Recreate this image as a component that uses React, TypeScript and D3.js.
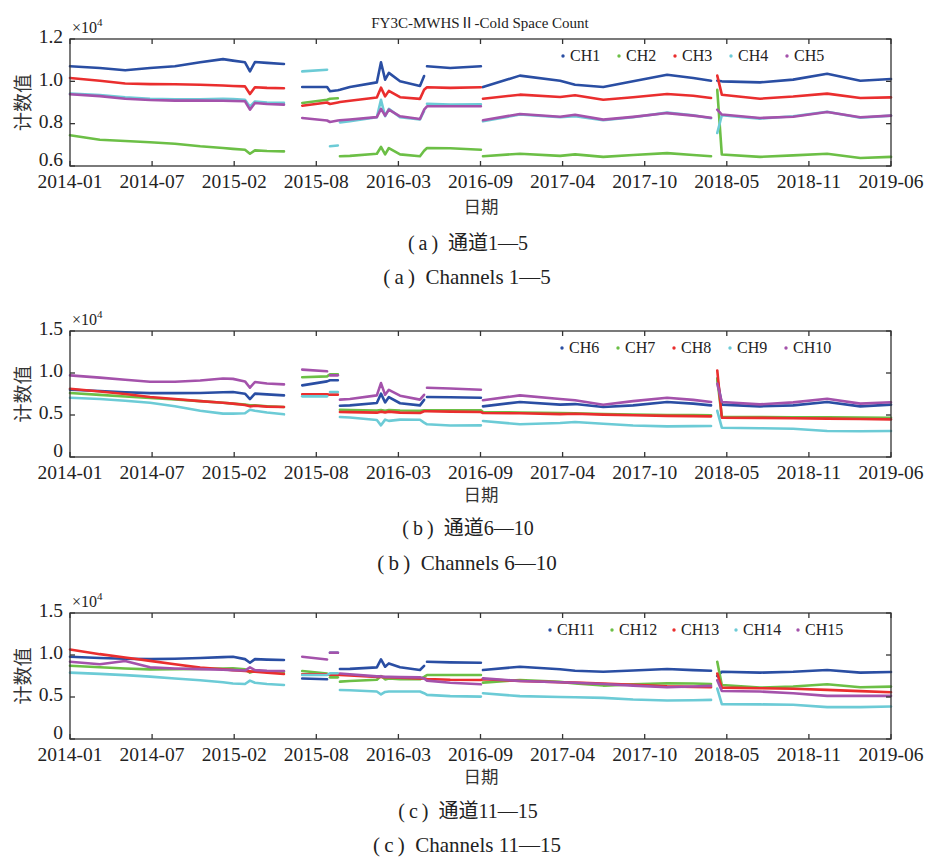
import React from "react";
import * as d3 from "d3";

// sample dates (null rows in the series = data gaps)
const dates = [
  "2014-01-01", "2014-03-14", "2014-05-14", "2014-07-13", "2014-09-11", "2014-11-11",
  "2015-01-05", "2015-01-29", "2015-02-27", "2015-03-11", "2015-03-23", "2015-04-21",
  "2015-06-01", "2015-06-20", "2015-07-15", "2015-09-13", "2015-09-20", "2015-10-09",
  "2015-10-14", "2015-11-07", "2016-01-11", "2016-01-21", "2016-01-31", "2016-02-09",
  "2016-03-07", "2016-04-24", "2016-05-04", "2016-05-11", "2016-07-06", "2016-09-18",
  "2016-09-23", "2016-12-21", "2017-03-28", "2017-05-03", "2017-07-10", "2017-09-20",
  "2017-12-11", "2018-02-12", "2018-03-27", "2018-04-03", "2018-04-11", "2018-04-22",
  "2018-07-23", "2018-10-11", "2019-01-01", "2019-03-22", "2019-06-04",
];

const xTickLabels = [
  "2014-01", "2014-07", "2015-02", "2015-08", "2016-03", "2016-09",
  "2017-04", "2017-10", "2018-05", "2018-11", "2019-06",
];

// cold space counts, units of 10^4
const ch1 = [1.071, 1.063, 1.052, 1.063, 1.071, 1.09, 1.105, 1.098, 1.09, 1.047, 1.091, 1.087, 1.082, null, 0.973, 0.973, 0.953, 0.958, 0.96, 0.973, 0.995, 1.09, 1.008, 1.04, 1.0, 0.978, 1.025, 1.071, 1.063, 1.071, 0.973, 1.027, 1.003, 0.984, 0.973, 1.0, 1.031, 1.016, 1.003, null, 1.003, 1.0, 0.995, 1.008, 1.036, 1.003, 1.011];
const ch2 = [0.745, 0.724, 0.718, 0.712, 0.705, 0.693, 0.685, 0.681, 0.677, 0.658, 0.674, 0.671, 0.669, null, 0.898, 0.913, 0.918, 0.92, 0.646, 0.648, 0.658, 0.69, 0.655, 0.685, 0.655, 0.646, 0.672, 0.685, 0.684, 0.677, 0.646, 0.658, 0.648, 0.655, 0.643, 0.652, 0.661, 0.652, 0.646, null, 0.96, 0.654, 0.643, 0.65, 0.658, 0.638, 0.643];
const ch3 = [1.016, 1.003, 0.99, 0.987, 0.986, 0.984, 0.98, 0.978, 0.976, 0.94, 0.972, 0.969, 0.967, null, 0.885, 0.9, 0.893, 0.9, 0.902, 0.908, 0.924, 0.97, 0.929, 0.955, 0.925, 0.917, 0.96, 0.972, 0.969, 0.972, 0.918, 0.937, 0.926, 0.934, 0.913, 0.925, 0.94, 0.932, 0.921, null, 1.027, 0.937, 0.918, 0.928, 0.942, 0.921, 0.924];
const ch4 = [0.942, 0.935, 0.925, 0.918, 0.915, 0.915, 0.917, 0.916, 0.913, 0.88, 0.905, 0.9, 0.898, null, 1.047, 1.055, 0.693, 0.697, 0.806, 0.812, 0.83, 0.913, 0.835, 0.87, 0.83, 0.82, 0.86, 0.894, 0.89, 0.892, 0.811, 0.843, 0.83, 0.835, 0.816, 0.83, 0.852, 0.84, 0.826, null, 0.756, 0.84, 0.824, 0.835, 0.856, 0.828, 0.838];
const ch5 = [0.939, 0.93, 0.918, 0.912, 0.909, 0.909, 0.908, 0.907, 0.906, 0.866, 0.898, 0.893, 0.89, null, 0.827, 0.815, 0.808, 0.815, 0.816, 0.82, 0.831, 0.87, 0.838, 0.866, 0.835, 0.822, 0.866, 0.882, 0.882, 0.882, 0.816, 0.846, 0.833, 0.842, 0.819, 0.832, 0.85, 0.838, 0.828, null, 0.866, 0.843, 0.827, 0.833, 0.855, 0.83, 0.838];

const ch6 = [0.8, 0.785, 0.77, 0.76, 0.76, 0.762, 0.77, 0.774, 0.754, 0.69, 0.754, 0.745, 0.734, null, 0.853, 0.9, 0.913, 0.913, 0.611, 0.615, 0.643, 0.754, 0.65, 0.714, 0.64, 0.615, 0.68, 0.714, 0.712, 0.706, 0.603, 0.655, 0.623, 0.63, 0.595, 0.615, 0.655, 0.635, 0.615, null, 0.933, 0.623, 0.603, 0.615, 0.655, 0.603, 0.623];
const ch7 = [0.762, 0.74, 0.72, 0.702, 0.685, 0.665, 0.645, 0.635, 0.625, 0.615, 0.615, 0.605, 0.595, null, 0.95, 0.96, 0.984, 0.984, 0.563, 0.56, 0.553, 0.56, 0.55, 0.56, 0.553, 0.55, 0.556, 0.556, 0.556, 0.556, 0.536, 0.53, 0.522, 0.52, 0.512, 0.506, 0.5, 0.498, 0.496, null, 0.93, 0.476, 0.476, 0.474, 0.472, 0.47, 0.468];
const ch8 = [0.813, 0.78, 0.75, 0.714, 0.69, 0.665, 0.645, 0.635, 0.62, 0.603, 0.61, 0.6, 0.595, null, 0.746, 0.746, 0.742, 0.742, 0.536, 0.534, 0.528, 0.54, 0.53, 0.54, 0.528, 0.524, 0.544, 0.544, 0.54, 0.536, 0.524, 0.52, 0.51, 0.514, 0.504, 0.497, 0.49, 0.487, 0.484, null, 1.03, 0.468, 0.466, 0.462, 0.457, 0.452, 0.448];
const ch9 = [0.706, 0.69, 0.67, 0.645, 0.605, 0.55, 0.516, 0.516, 0.52, 0.563, 0.55, 0.53, 0.508, null, 0.722, 0.722, 0.774, 0.774, 0.476, 0.47, 0.44, 0.377, 0.445, 0.43, 0.445, 0.444, 0.41, 0.389, 0.375, 0.377, 0.429, 0.389, 0.405, 0.417, 0.395, 0.375, 0.365, 0.368, 0.369, null, 0.55, 0.349, 0.343, 0.337, 0.31, 0.306, 0.31];
const ch10 = [0.972, 0.945, 0.92, 0.895, 0.895, 0.91, 0.935, 0.93, 0.9, 0.825, 0.893, 0.875, 0.865, null, 1.04, 1.02, 0.972, 0.972, 0.683, 0.69, 0.734, 0.88, 0.74, 0.8, 0.73, 0.683, 0.74, 0.825, 0.815, 0.8, 0.675, 0.734, 0.69, 0.675, 0.623, 0.665, 0.706, 0.68, 0.655, null, 0.873, 0.655, 0.627, 0.65, 0.694, 0.635, 0.651];

const ch11 = [0.979, 0.965, 0.955, 0.951, 0.955, 0.965, 0.975, 0.979, 0.951, 0.908, 0.951, 0.945, 0.94, null, 0.72, 0.711, 1.026, 1.026, 0.833, 0.835, 0.853, 0.947, 0.86, 0.9, 0.855, 0.821, 0.87, 0.92, 0.912, 0.908, 0.821, 0.861, 0.83, 0.813, 0.8, 0.815, 0.833, 0.82, 0.813, null, 0.75, 0.801, 0.79, 0.8, 0.821, 0.79, 0.797];
const ch12 = [0.872, 0.855, 0.84, 0.829, 0.83, 0.835, 0.84, 0.841, 0.83, 0.79, 0.81, 0.805, 0.801, null, 0.809, 0.78, 0.734, 0.734, 0.683, 0.69, 0.705, 0.75, 0.71, 0.72, 0.711, 0.711, 0.74, 0.762, 0.762, 0.762, 0.671, 0.703, 0.68, 0.66, 0.636, 0.65, 0.663, 0.66, 0.655, null, 0.92, 0.643, 0.612, 0.625, 0.651, 0.616, 0.624];
const ch13 = [1.066, 1.01, 0.97, 0.93, 0.89, 0.85, 0.83, 0.82, 0.81, 0.805, 0.8, 0.79, 0.774, null, 0.77, 0.77, 0.766, 0.764, 0.762, 0.758, 0.74, 0.74, 0.735, 0.735, 0.73, 0.72, 0.72, 0.715, 0.705, 0.703, 0.711, 0.69, 0.675, 0.671, 0.66, 0.645, 0.626, 0.62, 0.616, null, 0.78, 0.612, 0.605, 0.598, 0.585, 0.57, 0.557];
const ch14 = [0.79, 0.775, 0.76, 0.742, 0.72, 0.7, 0.675, 0.66, 0.655, 0.695, 0.67, 0.655, 0.643, null, 0.762, 0.762, 0.782, 0.782, 0.584, 0.58, 0.565, 0.53, 0.56, 0.565, 0.565, 0.565, 0.545, 0.525, 0.51, 0.505, 0.545, 0.51, 0.5, 0.497, 0.49, 0.47, 0.458, 0.462, 0.466, null, 0.6, 0.415, 0.412, 0.407, 0.38, 0.379, 0.387];
const ch15 = [0.92, 0.89, 0.928, 0.853, 0.84, 0.832, 0.825, 0.82, 0.815, 0.853, 0.82, 0.812, 0.809, null, 0.979, 0.947, 1.026, 1.026, 0.78, 0.77, 0.745, 0.745, 0.74, 0.74, 0.737, 0.734, 0.72, 0.695, 0.67, 0.651, 0.722, 0.69, 0.675, 0.67, 0.655, 0.635, 0.616, 0.625, 0.632, null, 0.7, 0.572, 0.565, 0.545, 0.513, 0.513, 0.513];

const colors = ["#2a4ea3", "#6cbf46", "#ea2e2e", "#6ccbd6", "#a452ab"];

// fonts go through the style prop
const serif = { fontFamily: '"Liberation Serif", "Times New Roman", "DejaVu Serif", serif' };
const cjk = { fontFamily: '"Noto Sans CJK SC", sans-serif' };
const axisColor = "#333";

const parse = d3.timeParse("%Y-%m-%d");
const start = parse("2014-01-01");
const end = d3.timeDay.offset(start, 1980);
const x = d3.scaleTime().domain([start, end]).range([70, 891]);
const tickDates = xTickLabels.map((_, i) => d3.timeDay.offset(start, i * 198));
const parsedDates = dates.map((d) => parse(d));

const panels = [
  {
    series: [ch1, ch2, ch3, ch4, ch5], names: ["CH1", "CH2", "CH3", "CH4", "CH5"],
    top: 39, bottom: 166, domain: [0.6, 1.2], ticks: [0.6, 0.8, 1.0, 1.2],
    legendX: 563, legendStep: 56, xLabelY: 213,
    tag: "a", cn: "通道1—5", en: "Channels 1—5", cap1Y: 250, cap2Y: 284,
  },
  {
    series: [ch6, ch7, ch8, ch9, ch10], names: ["CH6", "CH7", "CH8", "CH9", "CH10"],
    top: 331, bottom: 457, domain: [0, 1.5], ticks: [0, 0.5, 1.0, 1.5],
    legendX: 562, legendStep: 56, xLabelY: 501,
    tag: "b", cn: "通道6—10", en: "Channels 6—10", cap1Y: 535, cap2Y: 570,
  },
  {
    series: [ch11, ch12, ch13, ch14, ch15], names: ["CH11", "CH12", "CH13", "CH14", "CH15"],
    top: 613, bottom: 739, domain: [0, 1.5], ticks: [0, 0.5, 1.0, 1.5],
    legendX: 550, legendStep: 62, xLabelY: 783,
    tag: "c", cn: "通道11—15", en: "Channels 11—15", cap1Y: 818, cap2Y: 852,
  },
];

const fmt = (v) => (v === 0 ? "0" : d3.format(".1f")(v));

// split a series into runs: break at nulls and at abrupt level jumps (the
// original is a scatter of daily points, so jumps show as gaps, not lines)
function segments(s) {
  const segs = [];
  let cur = [];
  parsedDates.forEach((d, j) => {
    const v = s[j];
    if (v == null) {
      if (cur.length) segs.push(cur);
      cur = [];
      return;
    }
    if (cur.length) {
      const [pd, pv] = cur[cur.length - 1];
      if (d3.timeDay.count(pd, d) <= 7 && Math.abs(v - pv) > 0.03) {
        segs.push(cur);
        cur = [];
      }
    }
    cur.push([d, v]);
  });
  if (cur.length) segs.push(cur);
  return segs;
}

function Panel({ p }) {
  const [x0, x1] = x.range();
  const y = d3.scaleLinear().domain(p.domain).range([p.bottom, p.top]);
  const line = d3
    .line()
    .x((d) => x(d[0]))
    .y((d) => y(d[1]));
  const tk = 5;

  return (
    <g>
      {/* series, first channel drawn first so the last one sits on top */}
      {p.series.map((s, i) => (
        <g key={i} fill="none" stroke={colors[i]} strokeWidth={2.6} strokeLinejoin="round" strokeLinecap="round">
          {segments(s).map((seg, k) => (
            <path key={k} d={seg.length > 1 ? line(seg) : `M${x(seg[0][0])},${y(seg[0][1])}h0.1`} />
          ))}
        </g>
      ))}

      {/* frame and inward ticks */}
      <rect x={x0} y={p.top} width={x1 - x0} height={p.bottom - p.top} fill="none" stroke={axisColor} strokeWidth={1.3} />
      {tickDates.map((t, i) => (
        <g key={i}>
          <line x1={x(t)} x2={x(t)} y1={p.bottom} y2={p.bottom - tk} stroke={axisColor} strokeWidth={1.3} />
          <line x1={x(t)} x2={x(t)} y1={p.top} y2={p.top + tk} stroke={axisColor} strokeWidth={1.3} />
          <text x={x(t)} y={p.bottom + 22} textAnchor="middle" style={serif} fontSize={19.5} fill="#222">
            {xTickLabels[i]}
          </text>
        </g>
      ))}
      {p.ticks.map((v, i) => (
        <g key={i}>
          <line x1={x0} x2={x0 + tk} y1={y(v)} y2={y(v)} stroke={axisColor} strokeWidth={1.3} />
          <line x1={x1} x2={x1 - tk} y1={y(v)} y2={y(v)} stroke={axisColor} strokeWidth={1.3} />
          {/* lowest label sits a little higher, clear of the date labels */}
          <text x={63} y={y(v) - (i === 0 ? 4 : 0)} dy="0.22em" textAnchor="end" style={serif} fontSize={19.5} fill="#222">
            {fmt(v)}
          </text>
        </g>
      ))}

      {/* exponent */}
      <text x={72} y={p.top - 6} style={serif} fontSize={16} fill="#222">
        ×10<tspan dy={-7} fontSize={11}>4</tspan>
      </text>

      {/* axis titles */}
      <text
        transform={`translate(30,${(p.top + p.bottom) / 2}) rotate(-90)`}
        textAnchor="middle"
        style={cjk}
        fontSize={19}
        fill="#333"
      >
        计数值
      </text>
      <text x={481} y={p.xLabelY} textAnchor="middle" style={cjk} fontSize={17.5} fill="#333">
        日期
      </text>

      {/* legend */}
      {p.names.map((n, i) => (
        <g key={n} transform={`translate(${p.legendX + i * p.legendStep},${p.top + 22})`}>
          <circle cx={0} cy={-5} r={1.7} fill={colors[i]} />
          <text x={7} y={0} style={serif} fontSize={16} fill="#222">
            {n}
          </text>
        </g>
      ))}

      {/* captions */}
      <text x={468} y={p.cap1Y} textAnchor="middle" fontSize={20} fill="#222">
        <tspan style={serif}>{`(\u2009${p.tag}\u2009)\u2002`}</tspan>
        <tspan style={cjk}>{p.cn.slice(0, 2)}</tspan>
        <tspan style={serif}>{p.cn.slice(2)}</tspan>
      </text>
      <text x={467} y={p.cap2Y} textAnchor="middle" style={serif} fontSize={21} fill="#222">
        {`(\u2009${p.tag}\u2009)\u2002${p.en}`}
      </text>
    </g>
  );
}

export default function App() {
  return (
    <svg
      width={926}
      height={857}
      style={{ position: "absolute", left: 0, top: 0, background: "#fff" }}
    >
      <text x={480} y={28} textAnchor="middle" style={serif} fontSize={15} fill="#222">
        FY3C-MWHS<tspan style={cjk}>Ⅱ</tspan>-Cold Space Count
      </text>
      {panels.map((p, i) => (
        <Panel key={i} p={p} />
      ))}
    </svg>
  );
}
